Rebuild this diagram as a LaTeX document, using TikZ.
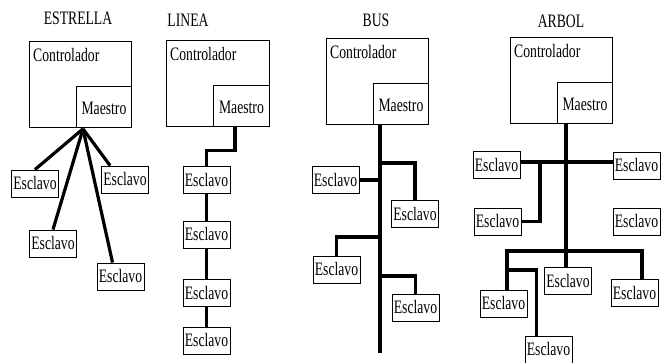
\documentclass[tikz,border=0pt]{standalone}
\usepackage{fontspec}
\setmainfont[FakeStretch=0.72]{Liberation Serif}
\usetikzlibrary{calc}
\begin{document}
\begin{tikzpicture}[x=1pt,y=-1pt,
  every node/.style={font=\fontsize{19}{21}\selectfont},
  box/.style={draw,line width=0.9pt,inner sep=0pt},
  ctrl/.style={box,minimum width=102pt,minimum height=86pt,anchor=north west},
  mstr/.style={box,minimum width=55pt,minimum height=41pt,anchor=south east,text height=16pt,text depth=0pt},
  slave/.style={box,minimum width=47pt,minimum height=27pt},
  ctext/.style={anchor=north west,inner sep=0pt},
  title/.style={inner sep=0pt},
  wire/.style={line width=3.2pt}]
\useasboundingbox[fill=white] (0,0) rectangle (670,363);

% ---------- ESTRELLA ----------
\node[title] (t1) at (78,18) {ESTRELLA};
\node[ctrl] (c1) at (29,41) {};
\node[ctext] (c1t) at ($(c1.north west)+(4,7)$) {Controlador};
\node[mstr] (m1) at (c1.south east) {Maestro};
\coordinate (hub1) at ($(m1.south west)+(7,1)$);
\node[slave] (s11) at (35,183.5) {Esclavo};
\node[slave] (s12) at (125,179.5) {Esclavo};
\node[slave] (s13) at (53,243.5) {Esclavo};
\node[slave] (s14) at (120.5,276.5) {Esclavo};
\draw[wire] (hub1) -- (s11.north);
\draw[wire] (hub1) -- ($(s12.north west)+(9,0)$);
\draw[wire] (hub1) -- (s13.north);
\draw[wire] (hub1) -- ($(s14.north west)+(16,0)$);

% ---------- LINEA ----------
\node[title] (t2) at (188,20) {LINEA};
\node[ctrl,minimum width=103pt] (c2) at (166,40) {};
\node[ctext] (c2t) at ($(c2.north west)+(4,7)$) {Controlador};
\node[mstr,minimum width=56pt] (m2) at (c2.south east) {Maestro};
\node[slave] (s21) at (206.5,180) {Esclavo};
\node[slave] (s22) at (206.5,234.5) {Esclavo};
\node[slave] (s23) at (206.5,293) {Esclavo};
\node[slave] (s24) at (206.5,340.5) {Esclavo};
\coordinate (tap2) at ($(m2.south west)+(22,0)$);
\draw[wire] (tap2) -- ++(0,24) -| (s21.north);
\draw[wire] (s21) -- (s22);
\draw[wire] (s22) -- (s23);
\draw[wire] (s23) -- (s24);

% ---------- BUS ----------
\node[title] (t3) at (376,20) {BUS};
\node[ctrl] (c3) at (326,38) {};
\node[ctext] (c3t) at ($(c3.north west)+(4,7)$) {Controlador};
\node[mstr] (m3) at (c3.south east) {Maestro};
\coordinate (bustop) at ($(m3.south west)+(7,0)$);
\coordinate (busend) at (380,353);
\node[slave] (s31) at (335.5,180) {Esclavo};
\node[slave] (s32) at (415,214) {Esclavo};
\node[slave] (s33) at (336.5,269.5) {Esclavo};
\node[slave] (s34) at (415.5,307.5) {Esclavo};
\draw[wire] (bustop) -- (busend);
\draw[wire] (s31.east) -- (bustop |- s31.east);
\draw[wire] (bustop |- 0,163) -| (s32.north);
\draw[wire] (bustop |- 0,237) -| (s33.north);
\draw[wire] (bustop |- 0,276) -| (s34.north);

% ---------- ARBOL ----------
\node[title] (t4) at (561,21) {ARBOL};
\node[ctrl] (c4) at (510,37) {};
\node[ctext] (c4t) at ($(c4.north west)+(4,7)$) {Controlador};
\node[mstr] (m4) at (c4.south east) {Maestro};
\coordinate (root) at ($(m4.south west)+(9,0)$);
\node[slave] (s41) at (496.5,165) {Esclavo};
\node[slave] (s42) at (636.5,165.5) {Esclavo};
\node[slave] (s43) at (497.5,221.5) {Esclavo};
\node[slave] (s44) at (636.5,221.5) {Esclavo};
\node[slave] (s45) at (568,281) {Esclavo};
\node[slave] (s46) at (634.5,293) {Esclavo};
\node[slave] (s47) at (503.5,303.5) {Esclavo};
\node[slave] (s48) at (548.5,349.5) {Esclavo};
\draw[wire] (root) -- (root |- s45.north);
\draw[wire] (s41.east |- 0,162) -- (s42.west |- 0,162);
\draw[wire] (540,162) |- (s43.east);
\coordinate (lowl) at (507,251);
\coordinate (lowr) at (642,251);
\draw[wire] (lowl |- s47.north) -- (lowl) -- (lowr) -- (lowr |- s46.north);
\draw[wire] (507,270) -| ($(s48.north west)+(12,0)$);
\end{tikzpicture}
\end{document}
